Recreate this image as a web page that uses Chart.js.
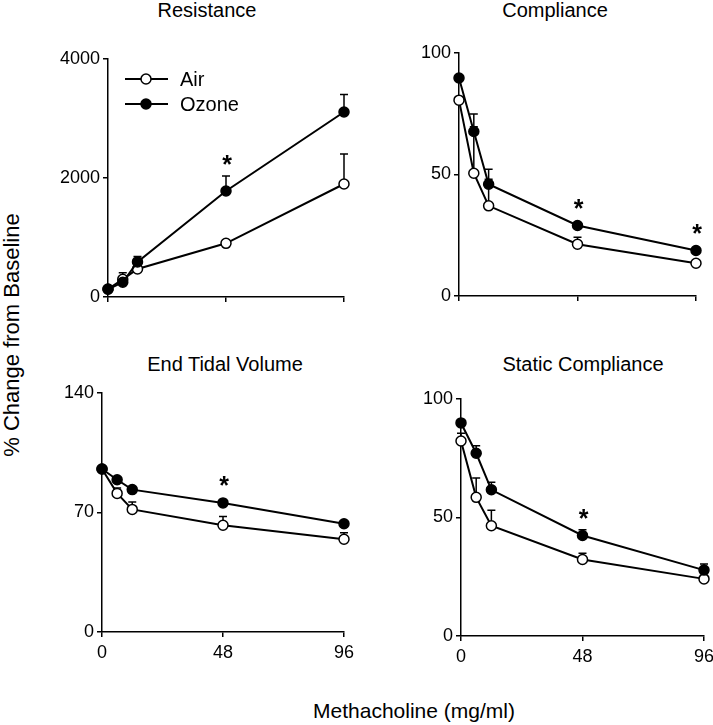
<!DOCTYPE html>
<html>
<head>
<meta charset="utf-8">
<script src="https://cdn.jsdelivr.net/npm/chart.js@4.4.1/dist/chart.umd.min.js"></script>
<style>
  body { margin: 0; background: #fff; width: 713px; height: 725px; position: relative; overflow: hidden;
         font-family: 'Liberation Sans', Arial, sans-serif; color: #000; }
  canvas { position: absolute; }
  .lbl { position: absolute; white-space: nowrap; text-align: center; }
</style>
</head>
<body>
<div class="lbl" style="left:107px;top:0;width:200px;font-size:20px;line-height:20px;">Resistance</div>
<div class="lbl" style="left:455px;top:0;width:200px;font-size:20px;line-height:20px;">Compliance</div>
<div class="lbl" style="left:125px;top:354px;width:200px;font-size:20px;line-height:20px;">End Tidal Volume</div>
<div class="lbl" style="left:483px;top:354px;width:200px;font-size:20px;line-height:20px;">Static Compliance</div>
<div class="lbl" style="left:-118px;top:324px;width:260px;font-size:22px;line-height:22px;transform:rotate(-90deg);transform-origin:130px 11px;">% Change from Baseline</div>
<div class="lbl" style="left:264px;top:700px;width:300px;font-size:21px;line-height:21px;">Methacholine (mg/ml)</div>

<canvas id="c1"></canvas>
<canvas id="c2"></canvas>
<canvas id="c3"></canvas>
<canvas id="c4"></canvas>

<script>
'use strict';

// doses (mg/ml) and x-axis ticks
const doses = [0, 6, 12, 48, 96];
const xTicks = [0, 48, 96];
const seriesNames = ['Air', 'Ozone'];

// Resistance
const resAir = [135, 297, 470, 902, 1899];
const resAirSem = [20, 110, 20, 30, 504];
const resOzone = [130, 247, 590, 1781, 3109];
const resOzoneSem = [20, 40, 90, 252, 296];
const resTicks = [0, 2000, 4000];
const resStars = [48];

// Compliance
const compAir = [80.6, 50.5, 37.1, 21.3, 13.5];
const compAirSem = [1, 24.4, 15.1, 2.9, 1];
const compOzone = [89.7, 67.7, 46, 29, 18.7];
const compOzoneSem = [1, 2, 2, 1, 1];
const compTicks = [0, 50, 100];
const compStars = [48, 96];

// End Tidal Volume
const etvAir = [95.5, 81.2, 71.8, 62.5, 54.3];
const etvAirSem = [1, 3.2, 4.4, 5.2, 3.9];
const etvOzone = [95.5, 89.2, 83.4, 75.6, 63.4];
const etvOzoneSem = [1, 1, 1, 1, 1];
const etvTicks = [0, 70, 140];
const etvStars = [48];

// Static Compliance
const statAir = [82.3, 58.5, 46.5, 32.3, 24.1];
const statAirSem = [3.2, 8.2, 6.6, 2.6, 1];
const statOzone = [89.9, 77.1, 61.7, 42.4, 27.8];
const statOzoneSem = [1, 3.2, 3.2, 2.4, 2.6];
const statTicks = [0, 50, 100];
const statStars = [48];

const FONT = "'Liberation Sans', Arial, sans-serif";

const panels = [
    { id: 'c1', air: resAir, airSem: resAirSem, ozone: resOzone, ozoneSem: resOzoneSem,
      yTicks: resTicks, stars: resStars, xLabels: false, legend: true, area: [108, 344, 59, 297] },
    { id: 'c2', air: compAir, airSem: compAirSem, ozone: compOzone, ozoneSem: compOzoneSem,
      yTicks: compTicks, stars: compStars, xLabels: false, legend: false, area: [459, 696, 53, 296] },
    { id: 'c3', air: etvAir, airSem: etvAirSem, ozone: etvOzone, ozoneSem: etvOzoneSem,
      yTicks: etvTicks, stars: etvStars, xLabels: true, legend: false, area: [102, 344, 393, 632] },
    { id: 'c4', air: statAir, airSem: statAirSem, ozone: statOzone, ozoneSem: statOzoneSem,
      yTicks: statTicks, stars: statStars, xLabels: true, legend: false, area: [461, 704, 399, 636] }
];

const PAD_L = 70, PAD_T = 30, PAD_R = 20, PAD_B = 40;

const errorBars = {
    id: 'errorBars',
    beforeDatasetsDraw(chart) {
        const ctx = chart.ctx;
        const y = chart.scales.y;
        ctx.save();
        ctx.strokeStyle = '#000';
        ctx.lineWidth = 1.5;
        chart.data.datasets.forEach((ds, di) => {
            const meta = chart.getDatasetMeta(di);
            ds.sem.forEach((s, i) => {
                if (!s) return;
                const pt = meta.data[i];
                const top = y.getPixelForValue(ds.data[i].y + s);
                ctx.beginPath();
                ctx.moveTo(pt.x, pt.y);
                ctx.lineTo(pt.x, top);
                ctx.moveTo(pt.x - 4, top);
                ctx.lineTo(pt.x + 4, top);
                ctx.stroke();
            });
        });
        ctx.restore();
    }
};

const stars = {
    id: 'stars',
    afterDatasetsDraw(chart, args, opts) {
        const ctx = chart.ctx;
        const y = chart.scales.y;
        const ds = chart.data.datasets[1];
        const meta = chart.getDatasetMeta(1);
        const size = 25;
        ctx.save();
        ctx.fillStyle = '#000';
        ctx.font = 'bold ' + size + 'px ' + FONT;
        ctx.textAlign = 'center';
        ctx.textBaseline = 'alphabetic';
        opts.at.forEach(d => {
            const i = doses.indexOf(d);
            const pt = meta.data[i];
            const top = Math.min(y.getPixelForValue(ds.data[i].y + ds.sem[i]), pt.y - 6);
            const cy = top - 17;
            ctx.fillText('*', pt.x + 1, cy + 0.575 * size);
        });
        ctx.restore();
    }
};

const legendBox = {
    id: 'legendBox',
    afterDatasetsDraw(chart, args, opts) {
        if (!opts.show) return;
        const ctx = chart.ctx;
        const ca = chart.chartArea;
        ctx.save();
        ctx.font = '20px ' + FONT;
        ctx.textBaseline = 'middle';
        ctx.fillStyle = '#000';
        seriesNames.forEach((name, k) => {
            const ly = ca.top + 20 + k * 25;
            ctx.strokeStyle = '#000';
            ctx.lineWidth = 2;
            ctx.beginPath();
            ctx.moveTo(ca.left + 17, ly);
            ctx.lineTo(ca.left + 60, ly);
            ctx.stroke();
            ctx.beginPath();
            ctx.arc(ca.left + 38, ly, 5, 0, Math.PI * 2);
            ctx.fillStyle = k === 0 ? '#fff' : '#000';
            ctx.fill();
            ctx.lineWidth = 1.5;
            ctx.stroke();
            ctx.fillStyle = '#000';
            ctx.fillText(name, ca.left + 72, ly + 1);
        });
        ctx.restore();
    }
};

function makeDataset(vals, sem, filled, order) {
    return {
        data: doses.map((d, i) => ({ x: d, y: vals[i] })),
        sem: sem,
        borderColor: '#000',
        borderWidth: 2,
        pointRadius: 5,
        pointBorderWidth: 1.5,
        pointBorderColor: '#000',
        pointBackgroundColor: filled ? '#000' : '#fff',
        tension: 0,
        clip: false,
        order: order
    };
}

function buildPanel(p) {
    const [L, R, T, B] = p.area;
    const canvas = document.getElementById(p.id);
    canvas.width = R - L + PAD_L + PAD_R;
    canvas.height = B - T + PAD_T + PAD_B;
    canvas.style.left = (L - PAD_L) + 'px';
    canvas.style.top = (T - PAD_T) + 'px';
    const yMax = p.yTicks[p.yTicks.length - 1];

    new Chart(canvas.getContext('2d'), {
        type: 'line',
        data: {
            datasets: [
                makeDataset(p.air, p.airSem, false, 1),
                makeDataset(p.ozone, p.ozoneSem, true, 0)
            ]
        },
        options: {
            responsive: false,
            animation: false,
            layout: { padding: { top: PAD_T, right: PAD_R, left: 0, bottom: 0 } },
            plugins: {
                legend: { display: false },
                tooltip: { enabled: false },
                stars: { at: p.stars },
                legendBox: { show: p.legend }
            },
            scales: {
                x: {
                    type: 'linear', min: 0, max: 96,
                    afterBuildTicks: s => { s.ticks = xTicks.map(v => ({ value: v })); },
                    afterFit: s => { s.height = PAD_B; },
                    grid: { drawOnChartArea: false, drawTicks: true, tickLength: 5, color: '#000', lineWidth: 1.5 },
                    border: { color: '#000', width: 1.5 },
                    ticks: { color: '#000', font: { family: FONT, size: 18 }, padding: 5, maxRotation: 0,
                             callback: v => p.xLabels ? String(v) : '' }
                },
                y: {
                    min: 0, max: yMax,
                    afterBuildTicks: s => { s.ticks = p.yTicks.map(v => ({ value: v })); },
                    afterFit: s => { s.width = PAD_L; },
                    grid: { drawOnChartArea: false, drawTicks: true, tickLength: 5, color: '#000', lineWidth: 1.5 },
                    border: { color: '#000', width: 1.5 },
                    ticks: { color: '#000', font: { family: FONT, size: 18 }, padding: 3,
                             callback: v => String(v) }
                }
            }
        },
        plugins: [errorBars, stars, legendBox]
    });
}

panels.forEach(buildPanel);
</script>
</body>
</html>
